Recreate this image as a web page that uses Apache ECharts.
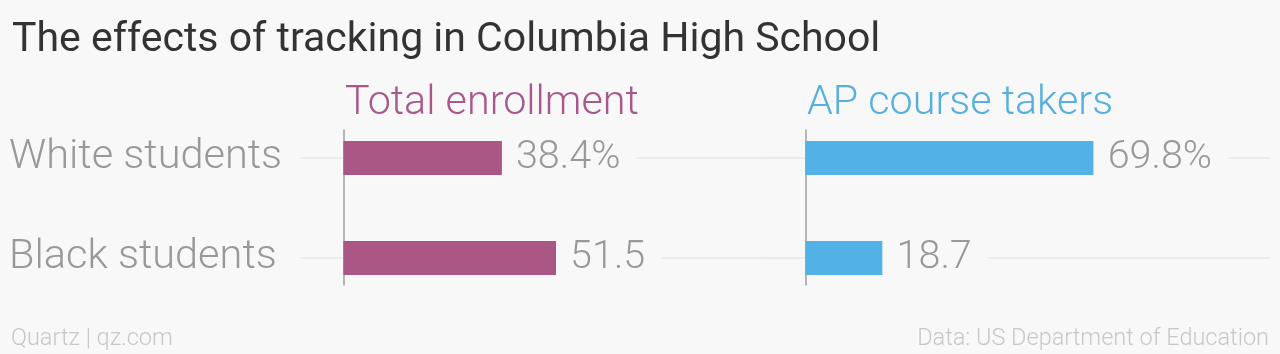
<!DOCTYPE html>
<html>
<head>
<meta charset="utf-8">
<script src="https://cdn.jsdelivr.net/npm/echarts@6/dist/echarts.min.js"></script>
<style>
html,body{margin:0;padding:0;background:#f8f8f8;}
#chart{width:1280px;height:354px;}
</style>
</head>
<body>
<div id="chart"></div>
<script>
const titleText = 'The effects of tracking in Columbia High School';
const categories = ['White students', 'Black students'];
const panelTitles = ['Total enrollment', 'AP course takers'];
const enrollment = [38.4, 51.5];
const apTakers = [69.8, 18.7];
const sourceLeft = 'Quartz | qz.com';
const sourceRight = 'Data: US Department of Education';

const BG = '#f8f8f8';
const colors = ['#aa5786', '#52b2e5'];
const headerColors = ['#a8588a', '#55b0e0'];
const FONT = 'Roboto';
const xMin = -10.5, xMax = 112.5;
const panelLeft = [300, 762];
const panelWidth = 508;

const chart = echarts.init(document.getElementById('chart'), null, {renderer: 'canvas'});

const grids = [], xAxes = [], yAxes = [], series = [];
[enrollment, apTakers].forEach((vals, p) => {
  grids.push({left: panelLeft[p], width: panelWidth, top: 158, height: 100, containLabel: false});
  grids.push({left: panelLeft[p], width: panelWidth, top: 130, height: 155, containLabel: false});
  const gi = p * 2;
  xAxes.push({gridIndex: gi, type: 'value', min: xMin, max: xMax, show: false});
  xAxes.push({gridIndex: gi + 1, type: 'value', min: xMin, max: xMax, show: false});
  yAxes.push({
    gridIndex: gi, type: 'category', data: categories, inverse: true, boundaryGap: false,
    axisLine: {show: false}, axisTick: {show: false},
    axisLabel: p === 0 ? {show: true, align: 'left', margin: 291, fontFamily: FONT, fontSize: 41.5, fontWeight: 300, color: '#999'} : {show: false},
    splitLine: {show: true, lineStyle: {color: '#e8e8e8', width: 1.5}}
  });
  yAxes.push({
    gridIndex: gi + 1, type: 'category', data: categories, inverse: true,
    axisLine: {show: true, onZero: true, lineStyle: {color: '#a0a0a0', width: 1.5}},
    axisTick: {show: false}, axisLabel: {show: false}, splitLine: {show: false}
  });
  series.push({
    type: 'bar', xAxisIndex: gi, yAxisIndex: gi, data: vals, barWidth: 34,
    itemStyle: {color: colors[p]},
    label: {
      show: true, position: 'right', distance: 0,
      formatter: (d) => d.dataIndex === 0 ? d.value + '%' : String(d.value),
      fontFamily: FONT, fontSize: 39.5, fontWeight: 300, color: '#999',
      backgroundColor: BG, padding: [0, 16, 0, 14]
    },
    silent: true, animation: false
  });
});

const option = {
  backgroundColor: BG,
  animation: false,
  title: [
    {text: titleText, left: 7, top: 13, textStyle: {fontFamily: FONT, fontSize: 41, fontWeight: 400, color: '#333', lineHeight: 46}},
    {text: panelTitles[0], left: 340, top: 76, textStyle: {fontFamily: FONT, fontSize: 41.3, fontWeight: 300, color: headerColors[0], lineHeight: 46}},
    {text: panelTitles[1], left: 802, top: 76, textStyle: {fontFamily: FONT, fontSize: 41.3, fontWeight: 300, color: headerColors[1], lineHeight: 46}},
    {text: sourceLeft, left: 6, top: 320, textStyle: {fontFamily: FONT, fontSize: 23.5, fontWeight: 300, color: '#c8c8c8', lineHeight: 28}},
    {text: sourceRight, right: 6, top: 320, textStyle: {fontFamily: FONT, fontSize: 23.5, fontWeight: 300, color: '#c8c8c8', lineHeight: 28}}
  ],
  grid: grids,
  xAxis: xAxes,
  yAxis: yAxes,
  series: series
};
chart.setOption(option);
</script>
</body>
</html>
